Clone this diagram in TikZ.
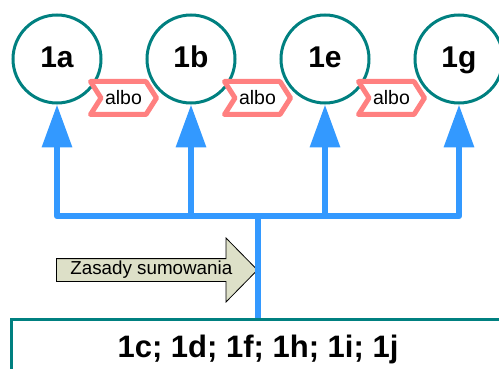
\documentclass[tikz,border=0pt]{standalone}
\usepackage{fontspec}
\setmainfont{Liberation Sans}
\usetikzlibrary{positioning}
\usetikzlibrary{shapes.symbols,shapes.arrows}
\usetikzlibrary{arrows.meta}
\definecolor{ringteal}{RGB}{0,128,128}
\definecolor{flowblue}{RGB}{51,153,255}
\definecolor{tagred}{RGB}{255,128,128}
\definecolor{notefill}{RGB}{221,224,200}
\tikzset{
  ring/.style = {draw=ringteal, line width=3pt, circle, minimum size=88pt, inner sep=0pt,
    text height=21.5pt, text depth=3.5pt,
    font=\fontsize{30}{36}\selectfont\bfseries},
  tag/.style = {draw=tagred, line width=5pt, line join=round, fill=white, signal,
    signal from=west, signal to=east, signal pointer angle=115,
    minimum width=66pt, minimum height=33pt, inner sep=0pt,
    text height=14pt, text depth=0pt,
    font=\fontsize{19.5}{23}\selectfont},% albo
  flow/.style = {draw=flowblue, line width=6.5pt, line join=round},
  flowup/.style = {flow, -{Triangle[length=43pt,width=29pt]}},
  note/.style = {single arrow, draw=black, line width=0.8pt, fill=notefill,
    single arrow head extend=20.5pt, single arrow tip angle=91, minimum height=201pt,
    text height=13pt, text depth=4pt, inner ysep=2.5pt, inner xsep=2pt,
    font=\fontsize{18.8}{22}\selectfont},
  sumbox/.style = {draw=ringteal, line width=3pt, minimum width=493pt, minimum height=53pt,
    inner sep=0pt, text height=22pt, text depth=0pt,
    font=\fontsize{31}{37}\selectfont\bfseries}
}
\begin{document}
\begin{tikzpicture}[x=1pt,y=1pt]
\useasboundingbox (0,0) rectangle (499,-369);
\clip (0,0) rectangle (499,-369);
\node [ring] (c1a) at (57,-59) {1a};
\node [ring, right=43pt of c1a] (c1b) {1b};
\node [ring, right=43pt of c1b] (c1e) {1e};
\node [ring, right=43pt of c1e] (c1g) {1g};
\node [sumbox] (sum) at (258,-346) {1c; 1d; 1f; 1h; 1i; 1j};
\coordinate (hub) at (258,-216);
\draw [flowup] (hub) -| (c1a.south);
\draw [flowup] (hub) -| (c1b.south);
\draw [flowup] (hub) -| (c1e.south);
\draw [flowup] (hub) -| (c1g.south);
\node [tag] (or1) at (123.5,-98) {albo};
\node [tag] (or2) at (257.5,-98) {albo};
\node [tag] (or3) at (391.5,-98) {albo};
\node [note, anchor=tip] (rule) at (258,-270) {Zasady sumowania};
\draw [flow] (hub) -- (sum.north);
\end{tikzpicture}
\end{document}
